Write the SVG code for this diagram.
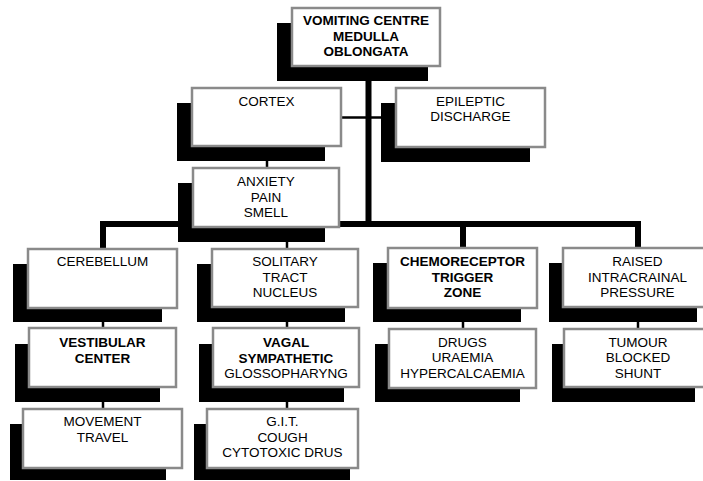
<svg xmlns="http://www.w3.org/2000/svg" width="703" height="481" viewBox="0 0 703 481">
<style>
.sh{fill:#000}
.bx{fill:#fff;stroke:#8a8a8a;stroke-width:2.5}
text{font-family:"Liberation Sans",Arial,sans-serif;font-size:13.5px;fill:#000;text-anchor:middle}
.b{font-weight:bold}
.thick{stroke:#000;stroke-width:6;fill:none}
.thin{stroke:#000;stroke-width:2.5;fill:none}
</style>
<rect width="703" height="481" fill="#fff"/>
<g id="connectors">
<line class="thick" x1="368.5" y1="80" x2="368.5" y2="227"/>
<line class="thick" x1="100" y1="224" x2="641" y2="224"/>
<line class="thick" x1="103" y1="221" x2="103" y2="250"/>
<line class="thick" x1="463" y1="221" x2="463" y2="249"/>
<line class="thick" x1="638" y1="221" x2="638" y2="249"/>
<line class="thin" x1="287" y1="224" x2="287" y2="250"/>
<line class="thin" x1="341" y1="117.5" x2="382" y2="117.5"/>
<line class="thin" x1="267" y1="160" x2="267" y2="169"/>
<line class="thin" x1="103" y1="321" x2="103" y2="329"/>
<line class="thin" x1="287" y1="321" x2="287" y2="329"/>
<line class="thin" x1="463" y1="321" x2="463" y2="330"/>
<line class="thin" x1="638" y1="321" x2="638" y2="330"/>
<line class="thin" x1="103" y1="401" x2="103" y2="410"/>
<line class="thin" x1="287" y1="401" x2="287" y2="410"/>
</g>
<g id="vomiting">
<rect class="sh" x="277" y="23" width="151" height="58"/>
<rect class="bx" x="292" y="8" width="148" height="58"/>
<text class="b" x="366" y="25">VOMITING CENTRE</text>
<text class="b" x="366" y="40.6">MEDULLA</text>
<text class="b" x="366" y="56.2">OBLONGATA</text>
</g>
<g id="cortex">
<rect class="sh" x="177" y="103" width="148" height="58"/>
<rect class="bx" x="192" y="88" width="149" height="58"/>
<text x="266.5" y="105.5">CORTEX</text>
</g>
<g id="epileptic">
<rect class="sh" x="381" y="103" width="149" height="59"/>
<rect class="bx" x="396" y="88" width="149" height="59"/>
<text x="470.5" y="105.5">EPILEPTIC</text>
<text x="470.5" y="121.1">DISCHARGE</text>
</g>
<g id="anxiety">
<rect class="sh" x="178" y="183" width="147" height="59"/>
<rect class="bx" x="193" y="168" width="146" height="59"/>
<text x="266" y="186">ANXIETY</text>
<text x="266" y="201.6">PAIN</text>
<text x="266" y="217.2">SMELL</text>
</g>
<g id="cerebellum">
<rect class="sh" x="13" y="264" width="149" height="58"/>
<rect class="bx" x="28" y="249" width="149" height="59"/>
<text x="102.5" y="266">CEREBELLUM</text>
</g>
<g id="solitary">
<rect class="sh" x="197" y="264" width="148" height="58"/>
<rect class="bx" x="212" y="249" width="146" height="58"/>
<text x="285" y="266">SOLITARY</text>
<text x="285" y="281.6">TRACT</text>
<text x="285" y="297.2">NUCLEUS</text>
</g>
<g id="chemoreceptor">
<rect class="sh" x="373" y="263" width="148" height="59"/>
<rect class="bx" x="388" y="248" width="149" height="60"/>
<text class="b" x="462.5" y="266">CHEMORECEPTOR</text>
<text class="b" x="462.5" y="281.6">TRIGGER</text>
<text class="b" x="462.5" y="297.2">ZONE</text>
</g>
<g id="raised">
<rect class="sh" x="549" y="263" width="148" height="59"/>
<rect class="bx" x="563" y="248" width="149" height="59"/>
<text x="637.5" y="266">RAISED</text>
<text x="637.5" y="281.6">INTRACRAINAL</text>
<text x="637.5" y="297.2">PRESSURE</text>
</g>
<g id="vestibular">
<rect class="sh" x="15" y="344" width="145" height="58"/>
<rect class="bx" x="29" y="328" width="147" height="59"/>
<text class="b" x="102.5" y="346.5">VESTIBULAR</text>
<text class="b" x="102.5" y="362.5">CENTER</text>
</g>
<g id="vagal">
<rect class="sh" x="199" y="344" width="145" height="58"/>
<rect class="bx" x="213" y="328" width="146" height="59"/>
<text class="b" x="286" y="346.5">VAGAL</text>
<text class="b" x="286" y="362.5">SYMPATHETIC</text>
<text x="286" y="378">GLOSSOPHARYNG</text>
</g>
<g id="drugs">
<rect class="sh" x="375" y="344" width="145" height="58"/>
<rect class="bx" x="389" y="329" width="147" height="59"/>
<text x="462.5" y="346.5">DRUGS</text>
<text x="462.5" y="362.1">URAEMIA</text>
<text x="462.5" y="377.7">HYPERCALCAEMIA</text>
</g>
<g id="tumour">
<rect class="sh" x="552" y="344" width="143" height="58"/>
<rect class="bx" x="564" y="329" width="148" height="58"/>
<text x="638" y="346.5">TUMOUR</text>
<text x="638" y="362.1">BLOCKED</text>
<text x="638" y="377.7">SHUNT</text>
</g>
<g id="movement">
<rect class="sh" x="10" y="424" width="156" height="56"/>
<rect class="bx" x="23" y="409" width="159" height="59"/>
<text x="102.5" y="426">MOVEMENT</text>
<text x="102.5" y="441.6">TRAVEL</text>
</g>
<g id="git">
<rect class="sh" x="194" y="424" width="156" height="56"/>
<rect class="bx" x="207" y="409" width="151" height="59"/>
<text x="282.5" y="426">G.I.T.</text>
<text x="282.5" y="441.6">COUGH</text>
<text x="282.5" y="457.2">CYTOTOXIC DRUS</text>
</g>
</svg>
